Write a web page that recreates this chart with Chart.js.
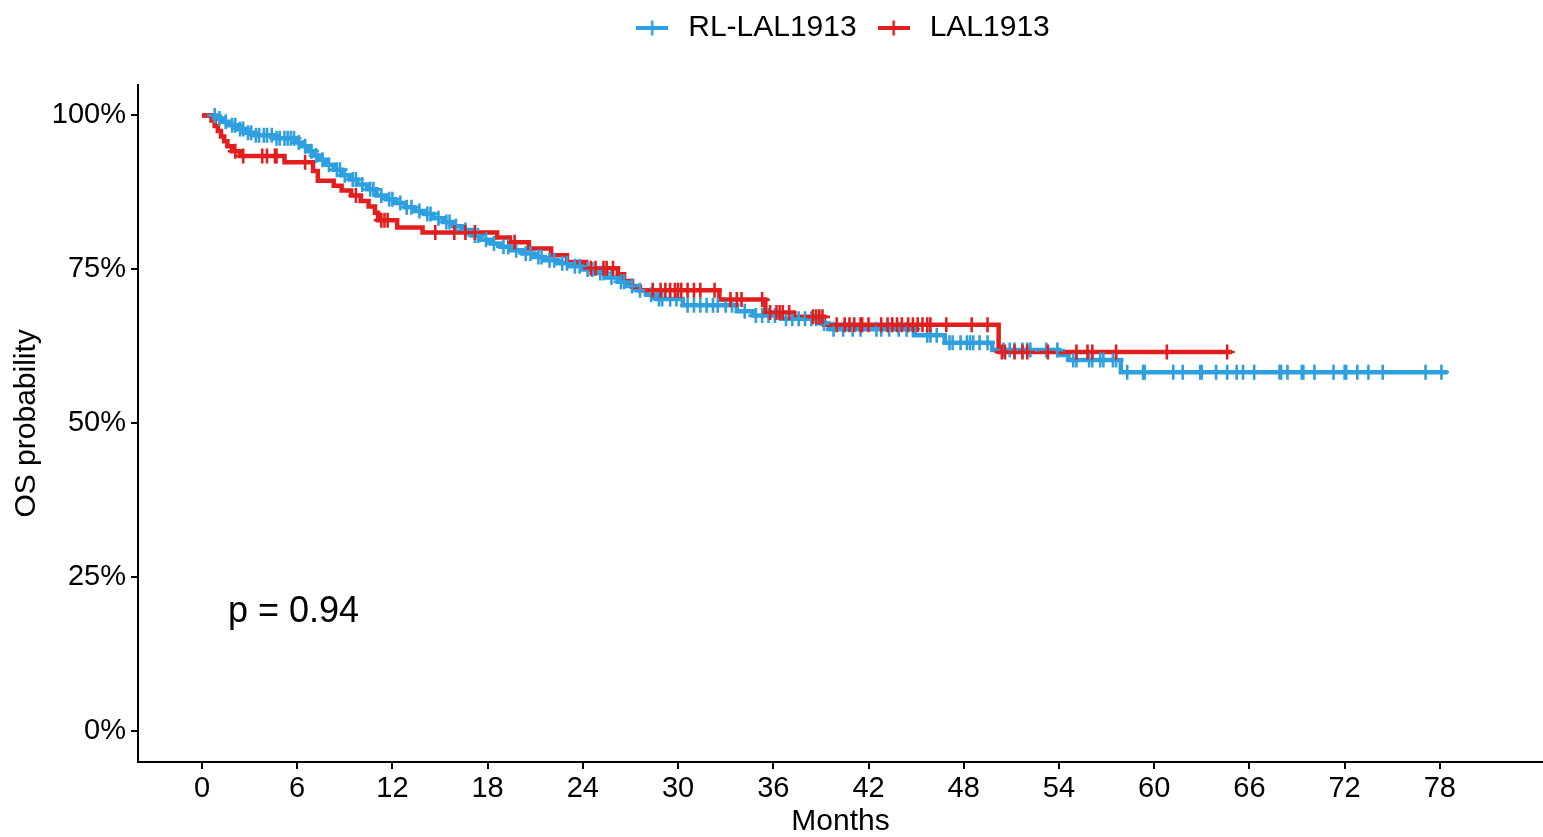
<!DOCTYPE html>
<html>
<head>
<meta charset="utf-8">
<script src="https://cdn.jsdelivr.net/npm/chart.js@4.4.1/dist/chart.umd.min.js"></script>
<style>
  html, body { margin: 0; padding: 0; background: #fff; }
  #wrap { width: 1543px; height: 837px; }
</style>
</head>
<body>
<div id="wrap"><canvas id="kmChart" width="1543" height="837"></canvas></div>
<script>
// Kaplan-Meier OS curves (months, % surviving)
const seriesNames = ['RL-LAL1913', 'LAL1913'];
const seriesColors = ['#2E9FDF', '#E21E1E'];

// RL-LAL1913: time of each drop and the level after it
const blueTime = [0, 0.9, 1.3, 1.7, 2.2, 2.7, 3.2, 4.5, 5.9, 6.3, 6.7, 7.0, 7.4, 7.8, 8.3, 8.8, 9.3, 9.8,
  10.4, 11.0, 11.6, 12.2, 12.8, 13.4, 14.0, 14.6, 15.2, 15.8, 16.4, 17.0, 17.6, 18.2, 18.8, 19.5,
  20.2, 20.9, 21.6, 22.4, 23.2, 24.0, 24.8, 25.5, 26.2, 26.8, 27.4, 28.0, 28.6, 30.3, 33.7, 34.7,
  36.5, 39.0, 39.5, 44.9, 46.8, 49.8, 54.0, 54.6, 57.9];
const blueSurv = [100, 99.5, 99.0, 98.4, 97.8, 97.2, 96.8, 96.3, 95.6, 95.0, 94.2, 93.5, 92.8, 92.0, 91.2, 90.3, 89.6, 88.8,
  88.0, 87.0, 86.4, 85.8, 85.1, 84.5, 84.0, 83.3, 82.7, 82.0, 81.4, 80.5, 79.8, 79.2, 78.7, 78.1,
  77.6, 77.0, 76.5, 76.0, 75.5, 75.0, 74.4, 73.7, 73.0, 72.3, 71.6, 70.9, 70.2, 69.2, 68.2, 67.5,
  67.0, 66.2, 65.3, 64.3, 63.1, 61.9, 61.1, 60.3, 58.3];
const blueEnd = 78.5;
const blueCensor = [0.8, 1.1, 1.5, 1.9, 2.1, 2.4, 2.6, 2.9, 3.1, 3.4, 3.6, 3.9, 4.1, 4.4, 4.7, 4.9, 5.2, 5.4, 5.6, 5.8, 6.1, 6.5,
  6.9, 7.2, 7.6, 8.0, 8.5, 8.7, 9.0, 9.5, 9.7, 10.1, 10.6, 10.8, 11.3, 11.8, 12.0,
  12.5, 12.9, 13.2, 13.7, 14.2, 14.4, 14.9, 15.4, 15.6, 16.0, 16.6, 17.2, 17.4, 17.9,
  18.4, 19.0, 19.3, 19.8, 20.4, 20.7, 21.2, 21.4, 21.9, 22.2, 22.7, 23.0, 23.5, 23.8,
  24.3, 24.6, 25.1, 25.3, 25.8, 26.4, 26.6, 27.1, 27.6, 28.3, 28.8, 29.0, 29.5, 29.9,
  30.6, 31.0, 31.4, 31.8, 32.2, 32.5, 33.0, 33.4, 34.2, 34.9, 35.3, 35.7,
  36.1, 36.8, 37.2, 37.6, 38.0, 38.4, 38.7, 39.2,
  39.8, 40.4, 41.0, 41.5, 42.5, 42.8, 43.3, 43.9, 44.4, 44.8, 45.7, 45.9, 46.3, 47.1, 47.3, 47.8,
  48.2, 48.4, 48.6, 49.0, 49.5, 50.5, 50.9, 51.2, 51.7, 52.0, 52.2, 53.2, 53.9, 54.9, 55.1, 55.9,
  56.1, 56.6, 56.8, 57.4, 57.6, 58.3, 59.3, 59.4, 61.2, 61.8, 62.9, 63.0, 63.9, 64.6, 65.2, 65.6,
  66.3, 67.9, 68.0, 68.4, 69.3, 69.4, 70.1, 71.3, 72.0, 72.1, 72.8, 73.5, 74.4, 77.1, 78.1];

// LAL1913
const redTime = [0, 0.6, 0.8, 1.0, 1.2, 1.4, 1.6, 1.9, 2.4, 5.2, 7.0, 7.3, 8.3, 8.8, 9.4, 10.0, 10.5, 10.9,
  11.1, 12.3, 13.9, 18.6, 19.4, 20.6, 22.0, 23.0, 24.2, 26.2, 26.6, 27.1, 27.6, 32.6, 35.5, 37.3, 39.2, 50.2];
const redSurv = [100, 99.2, 98.3, 97.5, 96.6, 95.8, 95.0, 94.2, 93.4, 92.4, 91.0, 89.4, 88.6, 87.8, 87.0, 86.1, 85.2, 84.2,
  83.0, 81.8, 81.0, 80.2, 79.4, 78.4, 77.3, 76.2, 75.2, 74.2, 73.1, 72.2, 71.6, 70.1, 68.0, 67.3, 66.0, 61.6];
const redEnd = 64.9;
const redCensor = [2.1, 2.6, 3.8, 4.1, 4.6, 4.7, 6.5, 9.7, 11.3, 11.5, 11.7, 14.7, 15.9, 16.6, 17.2, 19.7,
  24.5, 24.8, 25.3, 25.5, 25.9, 28.4, 28.9, 29.2, 29.5, 29.8, 30.0, 30.2, 30.6, 31.0, 31.4, 32.3,
  33.3, 33.7, 34.0, 35.3, 35.8, 36.2, 36.4, 36.6, 37.0, 38.5, 38.7, 38.9, 39.1,
  40.0, 40.5, 40.8, 41.1, 41.5, 41.6, 42.0, 42.8, 43.2, 43.5, 43.8, 44.1, 44.5, 44.8, 45.1, 45.4,
  45.7, 45.9, 46.9, 48.5, 49.5, 50.4, 50.6, 51.2, 51.7, 52.0, 53.3, 55.1, 55.8, 56.1, 57.6, 60.8, 64.6];

const xTicks = [0, 6, 12, 18, 24, 30, 36, 42, 48, 54, 60, 66, 72, 78];
const yTicks = [0, 25, 50, 75, 100];
const pText = 'p = 0.94';

const FONT = "'Liberation Sans', Arial, sans-serif";
Chart.defaults.font.family = FONT;
Chart.defaults.color = '#000';

function stepPoints(times, surv, end) {
  const pts = times.map((t, i) => ({ x: t, y: surv[i] }));
  pts.push({ x: end, y: surv[surv.length - 1] });
  return pts;
}

// level of the curve at time t (last drop at or before t)
function survAt(times, surv, t) {
  let v = surv[0];
  for (let i = 0; i < times.length; i++) {
    if (times[i] <= t) v = surv[i];
  }
  return v;
}

function censorPoints(cens, times, surv) {
  return cens.map(t => ({ x: t, y: survAt(times, surv, t) }));
}

// line with a cross, like the ggplot legend key
function legendGlyph(color) {
  const c = document.createElement('canvas');
  c.width = 32;
  c.height = 16;
  const g = c.getContext('2d');
  g.strokeStyle = color;
  g.lineWidth = 4;
  g.beginPath(); g.moveTo(0, 8); g.lineTo(32, 8); g.stroke();
  g.lineWidth = 2.5;
  g.beginPath(); g.moveTo(16, 0.5); g.lineTo(16, 15.5); g.stroke();
  return c;
}
const glyphs = seriesColors.map(legendGlyph);

const pvalPlugin = {
  id: 'pval',
  afterDatasetsDraw(chart) {
    const { ctx, scales } = chart;
    ctx.save();
    ctx.font = '36px ' + FONT;
    ctx.fillStyle = '#000';
    ctx.textAlign = 'left';
    ctx.textBaseline = 'alphabetic';
    ctx.fillText(pText, scales.x.getPixelForValue(1.64), scales.y.getPixelForValue(17.7));
    ctx.restore();
  }
};

const ctx = document.getElementById('kmChart').getContext('2d');
new Chart(ctx, {
  type: 'line',
  data: {
    datasets: [
      {
        label: seriesNames[0],
        data: stepPoints(blueTime, blueSurv, blueEnd),
        borderColor: seriesColors[0],
        borderWidth: 4.5,
        stepped: true,
        pointRadius: 0,
        fill: false,
        order: 4
      },
      {
        label: seriesNames[1],
        data: stepPoints(redTime, redSurv, redEnd),
        borderColor: seriesColors[1],
        borderWidth: 4.5,
        stepped: true,
        pointRadius: 0,
        fill: false,
        order: 3
      },
      {
        label: seriesNames[0] + ' censored',
        data: censorPoints(blueCensor, blueTime, blueSurv),
        showLine: false,
        pointStyle: 'cross',
        pointRadius: 7.5,
        pointBorderWidth: 2.6,
        borderColor: seriesColors[0],
        backgroundColor: seriesColors[0],
        order: 2
      },
      {
        label: seriesNames[1] + ' censored',
        data: censorPoints(redCensor, redTime, redSurv),
        showLine: false,
        pointStyle: 'cross',
        pointRadius: 7.5,
        pointBorderWidth: 2.6,
        borderColor: seriesColors[1],
        backgroundColor: seriesColors[1],
        order: 1
      }
    ]
  },
  options: {
    responsive: false,
    animation: false,
    devicePixelRatio: 1,
    layout: { autoPadding: false, padding: { top: -3, left: 0, right: 0, bottom: 0 } },
    plugins: {
      legend: {
        position: 'top',
        fullSize: false,
        labels: {
          usePointStyle: true,
          pointStyleWidth: 42,
          padding: 16,
          color: '#000',
          font: { size: 30 },
          generateLabels: () => seriesNames.map((name, i) => ({
            text: name,
            fillStyle: seriesColors[i],
            strokeStyle: seriesColors[i],
            lineWidth: 0,
            pointStyle: glyphs[i],
            fontColor: '#000',
            hidden: false,
            datasetIndex: i
          }))
        }
      },
      // empty title used as the gap between legend and panel
      title: {
        display: true,
        text: '',
        position: 'top',
        fullSize: false,
        weight: 100,
        font: { size: 10, lineHeight: 1.2 },
        padding: { top: 19.7, bottom: 0 }
      },
      tooltip: { enabled: false }
    },
    scales: {
      x: {
        type: 'linear',
        min: -4.03,
        max: 84.5,
        afterBuildTicks: s => { s.ticks = xTicks.map(v => ({ value: v })); },
        afterFit: s => { s.height = 75; },
        ticks: { color: '#000', font: { size: 29 }, padding: 3, maxRotation: 0, autoSkip: false },
        grid: { drawOnChartArea: false, drawTicks: true, tickLength: 7, color: '#000', lineWidth: 2 },
        border: { display: true, color: '#000', width: 2 },
        title: { display: true, text: 'Months', color: '#000', font: { size: 30, lineHeight: 1 }, padding: 0 }
      },
      y: {
        type: 'linear',
        min: -5,
        max: 105,
        afterBuildTicks: s => { s.ticks = yTicks.map(v => ({ value: v })); },
        afterFit: s => { s.width = 138; },
        ticks: { color: '#000', font: { size: 29 }, padding: 5, autoSkip: false, callback: v => v + '%' },
        grid: { drawOnChartArea: false, drawTicks: true, tickLength: 7, color: '#000', lineWidth: 2 },
        border: { display: true, color: '#000', width: 2 },
        title: { display: true, text: 'OS probability', color: '#000', font: { size: 30 }, padding: { top: 9, bottom: 0 } }
      }
    }
  },
  plugins: [pvalPlugin]
});
</script>
</body>
</html>
